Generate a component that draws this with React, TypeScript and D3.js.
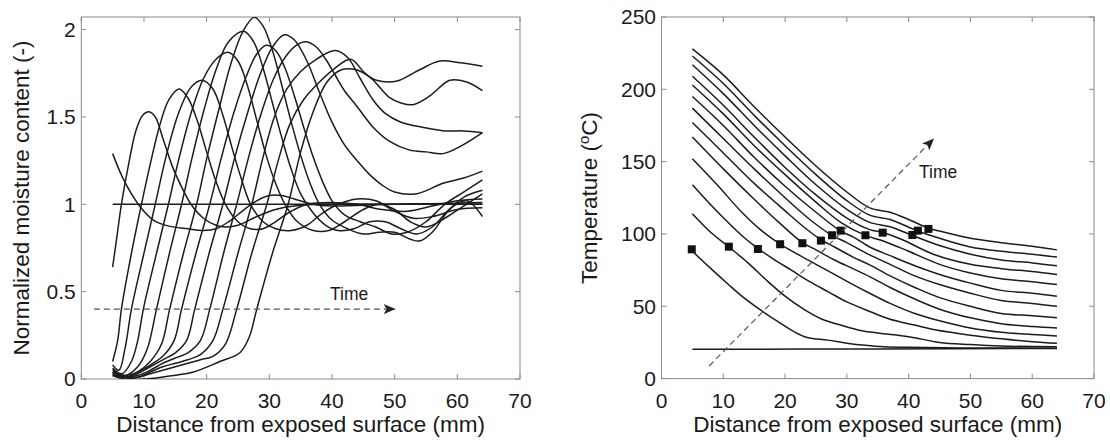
import React from 'react';
import * as d3 from 'd3';

type Pt = [number, number];

// ---------- ticks ----------
const xTickValues = [0, 10, 20, 30, 40, 50, 60, 70];
const moistureTickValues = [0, 0.5, 1, 1.5, 2];
const moistureTickLabels = ['0', '0.5', '1', '1.5', '2'];
const temperatureTickValues = [0, 50, 100, 150, 200, 250];
const temperatureTickLabels = ['0', '50', '100', '150', '200', '250'];

// ---------- moisture profiles (distance mm, normalized moisture) ----------
const moisture00: Pt[] = [[5, 1], [30, 1], [64, 1]];
const moisture01: Pt[] = [[5, 1.29], [6.5, 1.16], [8, 1.06], [9.5, 0.98], [11.5, 0.91], [14, 0.875], [17, 0.86], [19.5, 0.85], [21.5, 0.86], [23.5, 0.9], [26, 0.97], [28, 1.02], [30, 1.05], [32, 1.05], [34, 1.03], [37, 1.0], [40, 0.99], [50, 1.0], [64, 1.0]];
const moisture02: Pt[] = [[5, 0.64], [5.7, 0.82], [6.4, 1.0], [7.5, 1.22], [8.7, 1.42], [9.8, 1.51], [10.8, 1.53], [11.8, 1.5], [13, 1.38], [14.5, 1.22], [16, 1.1], [17.5, 1.0], [19.5, 0.92], [21.5, 0.88], [23, 0.87], [25, 0.88], [28, 0.93], [31, 0.97], [34, 0.99], [38, 1.0], [50, 1.0], [64, 1.01]];
const moisture03: Pt[] = [[5, 0.1], [5.8, 0.22], [6.4, 0.4], [8, 0.72], [9.6, 1.0], [11, 1.23], [12.5, 1.45], [14, 1.6], [15.6, 1.66], [17, 1.61], [18.5, 1.48], [20, 1.3], [21.5, 1.13], [23, 1.0], [25, 0.9], [27, 0.86], [29, 0.86], [31, 0.9], [33, 0.95], [36, 1.0], [40, 1.01], [44, 1.0], [48, 0.97], [52, 0.96], [56, 0.99], [60, 1.02], [64, 1.03]];
const moisture04: Pt[] = [[5, 0.08], [6, 0.05], [7, 0.18], [8, 0.4], [10, 0.72], [11.8, 1.0], [13.5, 1.27], [15.5, 1.52], [17.5, 1.67], [19.3, 1.71], [21, 1.66], [22.5, 1.52], [24, 1.33], [25.5, 1.15], [27, 1.0], [29, 0.9], [31, 0.86], [33.5, 0.85], [36, 0.88], [38.5, 0.95], [41, 1.0], [44, 1.03], [47, 1.02], [50, 0.96], [53, 0.92], [56, 0.93], [60, 0.97], [64, 0.98]];
const moisture05: Pt[] = [[5, 0.06], [6.5, 0.03], [8, 0.1], [9, 0.22], [9.9, 0.4], [12, 0.72], [13.9, 1.0], [15.5, 1.25], [17.5, 1.52], [19.5, 1.72], [21.5, 1.83], [23.4, 1.87], [25, 1.82], [26.5, 1.68], [28, 1.48], [29.5, 1.28], [31, 1.12], [32.5, 1.0], [34.5, 0.9], [37, 0.85], [39.5, 0.85], [42, 0.9], [45, 0.97], [47.5, 1.0], [50, 0.97], [52.5, 0.9], [55, 0.87], [58, 0.92], [61, 0.99], [64, 1.06]];
const moisture06: Pt[] = [[5, 0.05], [7, 0.02], [9, 0.07], [10.5, 0.17], [12, 0.4], [14, 0.71], [16, 1.0], [17.7, 1.27], [19.5, 1.53], [21.5, 1.77], [23.5, 1.93], [25.9, 1.99], [27.5, 1.93], [29, 1.78], [30.5, 1.58], [32, 1.38], [33.5, 1.2], [35, 1.06], [37, 0.95], [39, 0.88], [41, 0.85], [43.5, 0.86], [46, 0.9], [48.5, 0.9], [51, 0.86], [53.5, 0.83], [56, 0.87], [59, 0.98], [61.5, 1.02], [64, 0.93]];
const moisture07: Pt[] = [[5, 0.04], [7, 0.01], [9, 0.04], [11, 0.1], [12.8, 0.2], [14.1, 0.4], [16.3, 0.72], [18.4, 1.0], [20, 1.26], [22, 1.55], [24, 1.82], [25.8, 1.99], [27.6, 2.07], [29, 2.02], [30.5, 1.88], [32, 1.68], [33.5, 1.47], [35, 1.28], [36.5, 1.12], [38, 1.0], [40, 0.91], [42.5, 0.86], [45, 0.83], [47.5, 0.84], [50, 0.84], [52.5, 0.8], [54, 0.79], [56, 0.84], [58.5, 0.96], [61, 1.04], [64, 1.08]];
const moisture08: Pt[] = [[5, 0.04], [7, 0.02], [9, 0.04], [11, 0.08], [13, 0.13], [14.8, 0.22], [16, 0.4], [18.3, 0.72], [20.5, 1.0], [22.3, 1.26], [24.3, 1.52], [26.3, 1.73], [28, 1.86], [29.5, 1.91], [31, 1.88], [32.5, 1.78], [34, 1.62], [35.5, 1.44], [37, 1.27], [38.5, 1.13], [40, 1.02], [42, 0.94], [44.5, 0.9], [47, 0.87], [49.5, 0.83], [52, 0.84], [55, 0.9], [58, 1.0], [61, 1.07], [64, 1.14]];
const moisture09: Pt[] = [[5, 0.03], [7, 0.01], [9, 0.03], [11, 0.07], [13, 0.11], [15, 0.15], [16.8, 0.22], [18.1, 0.4], [20.4, 0.72], [22.6, 1.0], [24.5, 1.27], [26.5, 1.52], [28.5, 1.74], [30.5, 1.9], [32.4, 1.97], [34, 1.94], [36, 1.82], [38, 1.64], [40, 1.47], [42, 1.34], [44, 1.25], [46, 1.17], [48, 1.11], [50, 1.07], [53.5, 1.06], [57.7, 1.12], [61, 1.15], [64, 1.19]];
const moisture10: Pt[] = [[5, 0.03], [7, 0.01], [9, 0.02], [11, 0.05], [13, 0.09], [15, 0.12], [17, 0.15], [19, 0.22], [20.5, 0.4], [22.7, 0.72], [24.8, 1.0], [26.7, 1.27], [28.7, 1.52], [30.7, 1.72], [32.7, 1.85], [34.3, 1.91], [35.9, 1.93], [37.5, 1.9], [39, 1.83], [40.5, 1.74], [42, 1.65], [44, 1.56], [46.6, 1.44], [49.2, 1.36], [52.4, 1.31], [55, 1.3], [57.7, 1.29], [60.9, 1.34], [64, 1.41]];
const moisture11: Pt[] = [[5, 0.02], [7, 0.01], [9, 0.01], [11, 0.04], [13, 0.07], [15, 0.09], [17, 0.11], [19, 0.14], [21, 0.22], [22.6, 0.4], [25, 0.72], [27.2, 1.0], [29, 1.27], [30.8, 1.5], [32.8, 1.66], [35, 1.76], [37.5, 1.83], [40.5, 1.88], [42.5, 1.84], [44.5, 1.72], [46.5, 1.6], [48.5, 1.52], [51, 1.47], [54.6, 1.44], [58, 1.42], [61, 1.42], [64, 1.41]];
const moisture12: Pt[] = [[5, 0.02], [7, 0.0], [9, 0.01], [11, 0.03], [13, 0.05], [15, 0.07], [17, 0.09], [19, 0.11], [21, 0.13], [23, 0.2], [24.8, 0.4], [27.2, 0.72], [29.6, 1.0], [31.5, 1.26], [33.3, 1.46], [35.5, 1.6], [38, 1.7], [40.5, 1.78], [43, 1.83], [45, 1.76], [46.6, 1.71], [49.2, 1.61], [51, 1.58], [52.9, 1.57], [55.6, 1.62], [58.8, 1.71], [61.5, 1.7], [64, 1.65]];
const moisture13: Pt[] = [[5, 0.06], [6.5, 0.02], [8, 0.0], [10.4, 0.0], [14.7, 0.02], [17.9, 0.04], [22.1, 0.1], [25.3, 0.15], [26.8, 0.24], [28, 0.4], [30.5, 0.72], [33, 1.0], [35, 1.3], [37, 1.53], [39.2, 1.7], [41.5, 1.77], [43.9, 1.77], [47.1, 1.71], [49.2, 1.7], [50.8, 1.71], [54, 1.77], [57.2, 1.82], [60.5, 1.81], [64, 1.79]];

const moistureProfiles: Pt[][] = [moisture00, moisture01, moisture02, moisture03, moisture04, moisture05, moisture06, moisture07, moisture08, moisture09, moisture10, moisture11, moisture12, moisture13];

// ---------- temperature profiles (distance mm, °C) ----------
const temp00: Pt[] = [[5, 20.3], [35, 20.5], [64, 20.8]];
const temp01: Pt[] = [[5, 88], [8, 76], [10.7, 65.6], [13, 57], [16, 47.5], [19, 39], [21.5, 32.3], [23.6, 28.4], [26.9, 26.6], [30, 24.5], [33, 23], [36, 22], [40, 21.6], [50, 21.2], [64, 21]];
const temp02: Pt[] = [[5, 114], [8, 101], [10.9, 91], [14, 80], [17, 68], [20, 57], [23, 48], [26, 41], [29, 37], [32, 33.5], [35, 31.5], [40, 29], [45, 25], [50, 23.5], [55, 22.5], [64, 22]];
const temp03: Pt[] = [[5, 134], [8, 120], [11, 107], [13.5, 97], [15.6, 90], [18, 83], [21, 75], [24, 67], [27, 60], [30, 53], [33.7, 46.4], [37, 41], [41, 37], [44.5, 33.6], [50, 30], [55, 27.5], [60, 25.5], [64, 24.4]];
const temp04: Pt[] = [[5, 152], [9, 134], [13, 115], [16, 103], [19.2, 93], [22, 86], [25, 79], [28, 72], [31, 65], [33.7, 59], [37, 52], [41, 45], [45, 40], [50, 35], [55, 32], [60, 30.5], [64, 29.5]];
const temp05: Pt[] = [[5, 167], [10, 145], [15, 124], [19, 108], [22.8, 94], [25, 89], [28, 82], [31, 76], [33.7, 70.5], [37, 63], [41, 55], [45, 48], [50, 42], [55, 38], [60, 36], [64, 35]];
const temp06: Pt[] = [[5, 177], [10, 156], [15, 135], [20, 116], [23, 105], [25.8, 96], [28, 91], [31, 84], [33.7, 78.6], [37, 71], [41, 63], [45, 56], [50, 50], [55, 45], [60, 43.5], [64, 42]];
const temp07: Pt[] = [[5, 187], [10, 166], [15, 145], [20, 125], [24, 110], [27.6, 99], [30, 94], [33.7, 85.5], [37, 79], [41, 71], [45, 65], [50, 59], [55, 54], [60, 52], [64, 50]];
const temp08: Pt[] = [[5, 195], [10, 175], [15, 153], [20, 133], [25, 115], [29, 102], [31, 98], [33.7, 91], [37, 85], [41, 78], [45, 72], [50, 66], [55, 61], [60, 59], [64, 57]];
const temp09: Pt[] = [[5, 203], [10, 183], [15, 161], [20, 141], [25, 122], [29, 108], [33, 99], [36, 95], [40, 88], [45, 79], [50, 73], [55, 69], [60, 67], [64, 65]];
const temp10: Pt[] = [[5, 209], [10, 189], [15, 167], [20, 146], [25, 127], [30, 111], [33.7, 103], [35.8, 101], [39, 96], [44, 86], [50, 79], [55, 76], [60, 74], [64, 72]];
const temp11: Pt[] = [[5, 217], [10, 197], [15, 175], [20, 154], [25, 134], [30, 117], [33.7, 108], [37, 105], [40.6, 99], [45, 92], [50, 86], [55, 82], [60, 80], [64, 78]];
const temp12: Pt[] = [[5, 223], [10, 204], [15, 182], [20, 161], [25, 141], [30, 123], [33.7, 113], [37, 110], [41.5, 102], [45, 97], [50, 91], [55, 88], [60, 86], [64, 84]];
const temp13: Pt[] = [[5, 228], [10, 210], [15, 188], [20, 167], [25, 147], [30, 129], [33.7, 118], [37, 115], [40, 110], [43.2, 104], [45, 102], [50, 97], [55, 94], [60, 91.5], [64, 89]];

const temperatureProfiles: Pt[][] = [temp00, temp01, temp02, temp03, temp04, temp05, temp06, temp07, temp08, temp09, temp10, temp11, temp12, temp13];

// evaporation front markers
const frontX = [4.9, 10.9, 15.6, 19.2, 22.8, 25.8, 27.6, 29.0, 33.0, 35.8, 40.6, 41.5, 43.2];
const frontT = [89.4, 91.2, 89.6, 92.9, 93.6, 95.4, 99.1, 102.3, 99.1, 100.9, 99.3, 102.3, 103.5];

// "Time" arrows (data units)
const moistureArrow: Pt[] = [[2, 0.4], [50, 0.4]];
const temperatureArrow: Pt[] = [[7.7, 8.7], [44, 165.5]];

const FONT = '"Liberation Sans", Arial, Helvetica, sans-serif';
const AXIS = '#8a8a8a';
const TEXT = '#1a1a1a';
const LINE = '#1c1c1c';

const xL = d3.scaleLinear().domain([0, 70]).range([81.3, 520]);
const yL = d3.scaleLinear().domain([0, 2.072]).range([379, 17]);
const xR = d3.scaleLinear().domain([0, 70]).range([661.5, 1094]);
const yR = d3.scaleLinear().domain([0, 250]).range([378.6, 17]);

type Scale = d3.ScaleLinear<number, number>;

function Axes({ x, y, yTicks, yLabels, tickFont }: { x: Scale; y: Scale; yTicks: number[]; yLabels: string[]; tickFont: number }) {
  const [x0, x1] = x.range();
  const [yb, yt] = y.range();
  const tl = 5;
  return (
    <g>
      <rect x={x0} y={yt} width={x1 - x0} height={yb - yt} fill="none" stroke={AXIS} strokeWidth={1} />
      {xTickValues.map((v) => (
        <g key={'x' + v}>
          <line x1={x(v)} x2={x(v)} y1={yb} y2={yb - tl} stroke={AXIS} />
          <line x1={x(v)} x2={x(v)} y1={yt} y2={yt + tl} stroke={AXIS} />
          <text x={x(v)} y={408} textAnchor="middle" fontSize={tickFont} fill={TEXT} fontFamily={FONT}>{v}</text>
        </g>
      ))}
      {yTicks.map((v, i) => (
        <g key={'y' + v}>
          <line x1={x0} x2={x0 + tl} y1={y(v)} y2={y(v)} stroke={AXIS} />
          <line x1={x1} x2={x1 - tl} y1={y(v)} y2={y(v)} stroke={AXIS} />
          <text x={x0 - 5.5} y={y(v)} dy="0.35em" textAnchor="end" fontSize={tickFont} fill={TEXT} fontFamily={FONT}>{yLabels[i]}</text>
        </g>
      ))}
    </g>
  );
}

export default function App() {
  const lineL = d3.line<Pt>().x((d) => xL(d[0])).y((d) => yL(d[1])).curve(d3.curveCatmullRom.alpha(0.5));
  const lineR = d3.line<Pt>().x((d) => xR(d[0])).y((d) => yR(d[1])).curve(d3.curveCatmullRom.alpha(0.5));
  const straightL = d3.line<Pt>().x((d) => xL(d[0])).y((d) => yL(d[1]));
  const straightR = d3.line<Pt>().x((d) => xR(d[0])).y((d) => yR(d[1]));
  const tickFont = 21;
  const labelFont = 22.5;
  const ms = 8;
  return (
    <svg width={1110} height={443} style={{ position: 'absolute', left: 0, top: 0, background: '#fff' }} fontFamily={FONT}>
      <defs>
        <clipPath id="clipL"><rect x={81.3} y={17} width={520 - 81.3} height={379 - 17} /></clipPath>
        <clipPath id="clipR"><rect x={661.5} y={17} width={1094 - 661.5} height={378.6 - 17} /></clipPath>
        <marker id="arrowHead" viewBox="0 0 12 10" refX={11} refY={5} markerWidth={12} markerHeight={10} markerUnits="userSpaceOnUse" orient="auto">
          <path d="M0,0 L12,5 L0,10 L3,5 Z" fill="#222" />
        </marker>
      </defs>
      <rect x={0} y={0} width={1110} height={443} fill="#fff" />

      {/* Left panel */}
      <Axes x={xL} y={yL} yTicks={moistureTickValues} yLabels={moistureTickLabels} tickFont={tickFont} />
      <g clipPath="url(#clipL)">
        {moistureProfiles.map((c, i) => (
          <path key={i} d={lineL(c) || ''} fill="none" stroke={LINE} strokeWidth={1.5} />
        ))}
      </g>
      <path d={straightL(moistureArrow) || ''} fill="none" stroke="#555" strokeWidth={1.2} strokeDasharray="6,4" markerEnd="url(#arrowHead)" />
      <text x={330} y={300.3} fontSize={17.5} fill={TEXT}>Time</text>
      <text x={xL(35)} y={431.5} textAnchor="middle" fontSize={labelFont} fill={TEXT}>Distance from exposed surface (mm)</text>
      <text transform={`translate(28.5, 198) rotate(-90)`} textAnchor="middle" fontSize={labelFont} fill={TEXT}>Normalized moisture content (-)</text>

      {/* Right panel */}
      <Axes x={xR} y={yR} yTicks={temperatureTickValues} yLabels={temperatureTickLabels} tickFont={tickFont} />
      <g clipPath="url(#clipR)">
        {temperatureProfiles.map((c, i) => (
          <path key={i} d={lineR(c) || ''} fill="none" stroke={LINE} strokeWidth={1.5} />
        ))}
        {frontX.map((v, i) => (
          <rect key={'m' + i} x={xR(v) - ms / 2} y={yR(frontT[i]) - ms / 2} width={ms} height={ms} fill="#111" />
        ))}
      </g>
      <path d={straightR(temperatureArrow) || ''} fill="none" stroke="#555" strokeWidth={1.2} strokeDasharray="6,4" markerEnd="url(#arrowHead)" />
      <text x={919} y={178.3} fontSize={17.5} fill={TEXT}>Time</text>
      <text x={xR(35)} y={431.5} textAnchor="middle" fontSize={labelFont} fill={TEXT}>Distance from exposed surface (mm)</text>
      <text transform={`translate(597, 198) rotate(-90)`} textAnchor="middle" fontSize={labelFont} fill={TEXT}>
        Temperature (<tspan fontSize={15} dy={-8}>o</tspan><tspan dy={8}>C)</tspan>
      </text>
    </svg>
  );
}
